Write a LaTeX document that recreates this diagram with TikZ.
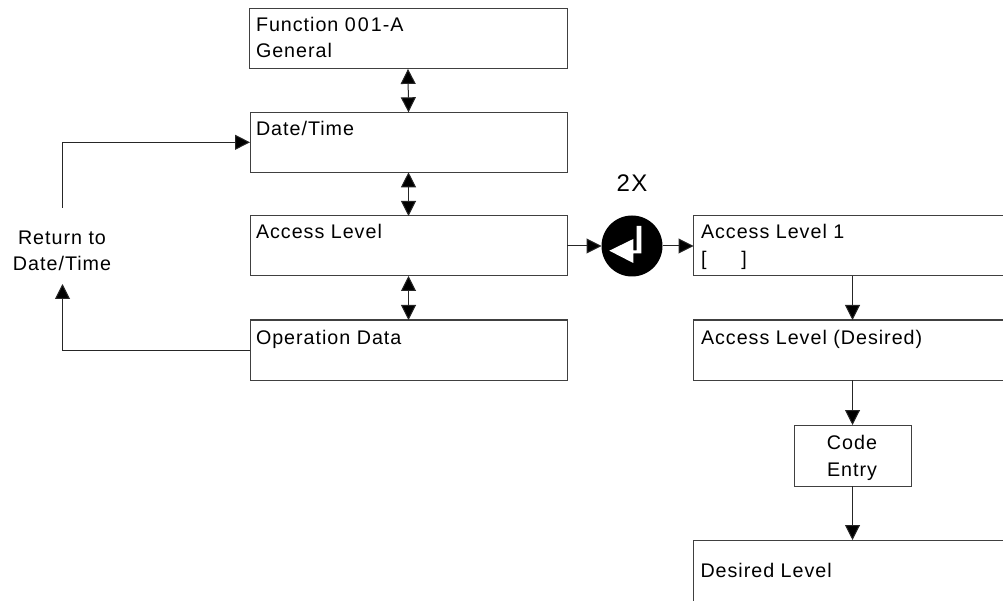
\documentclass[tikz,border=0pt]{standalone}
\usepackage{fontspec}
\setmainfont[LetterSpace=5]{Liberation Sans}
\usetikzlibrary{arrows.meta}
\tikzset{
  x=1pt,y=-1pt,
  boxnode/.style={draw=black!75,line width=1pt,rectangle,inner sep=0pt,outer sep=0pt},
  wide/.style={boxnode,minimum width=317pt,minimum height=60pt},
  txt/.style={font=\fontsize{19.7}{25}\selectfont,inner sep=0pt,outer sep=0pt,anchor=base west,align=left},
  ctxt/.style={font=\fontsize{19.7}{27}\selectfont,inner sep=0pt,outer sep=0pt,anchor=base,align=center},
  conn/.style={draw=black!85,line width=1pt,-{Triangle[length=15pt,width=15pt,fill=black]}},
  biconn/.style={draw=black!85,line width=1pt,{Triangle[length=15pt,width=15pt,fill=black]}-{Triangle[length=15pt,width=15pt,fill=black]}},
}
\begin{document}
\begin{tikzpicture}
\useasboundingbox (0,0) rectangle (1003,601);
\clip (0,0) rectangle (1003,601);
\node[wide,minimum width=318pt,minimum height=60.5pt] (f) at (408,38.7) {};
\node[wide] (d) at (408.5,142.3) {};
\node[wide] (a) at (408.5,246) {};
\node[wide] (o) at (408.5,350) {};
\node[wide,minimum width=318pt] (r1) at (852.5,246) {};
\node[wide,minimum width=318pt] (r2) at (852.5,350) {};
\node[boxnode,minimum width=117pt,minimum height=61pt] (c) at (852.5,455.5) {};
\node[wide,minimum width=318pt,minimum height=61pt] (r3) at (852.5,570.5) {};
\node[txt] (ft1) at (256,32) {Function 0\kern2pt0\kern2pt1\kern1pt-A};
\node[txt] (ft2) at (256,58) {General};
\node[txt] (dt) at (256,136) {Date/Time};
\node[txt] (at) at (256,239) {Access Level};
\node[txt] (ot) at (256,344) {Operation Data};
\node[txt] (r1a) at (701,239) {Access Level 1};
\node[txt] (r1b) at (701,266) {[\hspace{35pt}]};
\node[txt] (r2t) at (701,344) {Access Level (Desired)};
\node[txt] (r3t) at (700.5,577) {Desired Level};
\node[ctxt] (ct1) at (852,449) {Code};
\node[ctxt] (ct2) at (852,476) {Entry};
\node[ctxt] (ret1) at (62,245) {Return to};
\node[ctxt] (ret2) at (62,271) {Date/Time};
\coordinate (rettop) at (62.5,208);
\coordinate (retbot) at (62.5,284);
\node[ctxt,font=\fontsize{24}{28}\selectfont] (twox) at (632,192) {2X};
\node[circle,fill=black,minimum size=61pt,inner sep=0pt,outer sep=0pt] (k) at (632,246) {};
\fill[white] (609.3,250.7) -- (633.3,239) -- (633.3,250.5) -- (636.7,250.5) -- (636.7,226) -- (641.3,226) -- (641.3,253.3) -- (633.3,253.3) -- (633.3,263) -- cycle;
\draw[biconn] (f.south) -- (d.north);
\draw[biconn] (d.south) -- (a.north);
\draw[biconn] (a.south) -- (o.north);
\draw[conn] (a.east) -- (k.west);
\draw[conn] (k.east) -- (r1.west);
\draw[conn] (r1.south) -- (r2.north);
\draw[conn] (r2.south) -- (c.north);
\draw[conn] (c.south) -- (r3.north);
\draw[conn] (o.west) -| (retbot);
\draw[conn] (rettop) |- (d.west);
\end{tikzpicture}
\end{document}
